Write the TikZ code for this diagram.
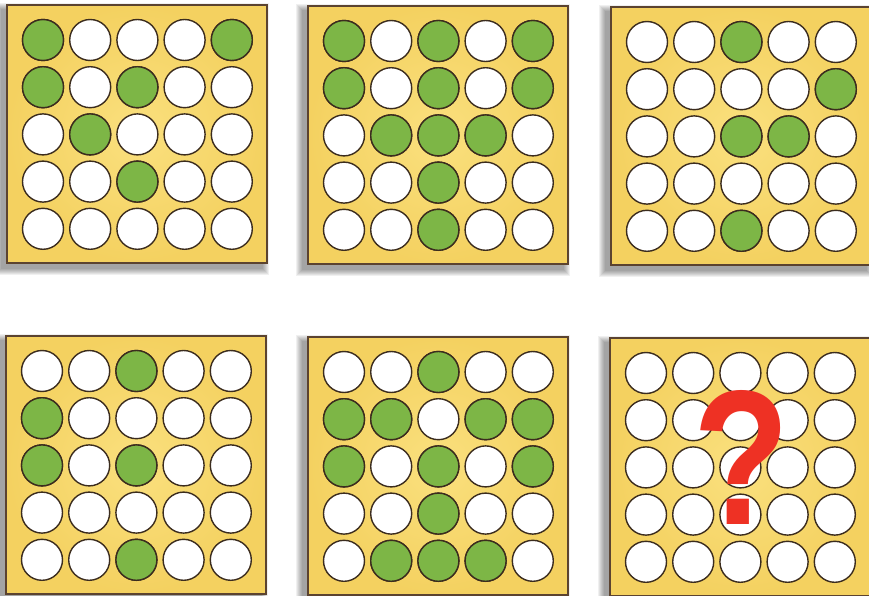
\documentclass[tikz,border=0pt]{standalone}
\usepackage{fontspec}
\newfontfamily\qfont{Liberation Sans}
\definecolor{panelin}{HTML}{FAE07E}
\definecolor{panelout}{HTML}{F4D160}
\definecolor{paneledge}{HTML}{5B4330}
\definecolor{dotgreen}{HTML}{7DB646}
\definecolor{dotedge}{HTML}{3B2C1E}
\definecolor{qred}{HTML}{EE3124}
\tikzset{
  panelbox/.style={draw=paneledge, line width=1.3pt, inner color=panelin, outer color=panelout},
  whitedot/.style={draw=dotedge, line width=1.4pt, fill=white},
  greendot/.style={draw=dotedge, line width=1.4pt, fill=dotgreen},
  shadowlayer/.style={fill=black, opacity=0.06}
}
\newcommand\drawpanel[3]{%
  \foreach \i in {1,...,7}{
    \fill[shadowlayer] ({#1-5-\i},{#2+5-\i}) rectangle ({#1+260-5+\i},{#2+258+5+\i});
  }
  \path[panelbox] (#1,#2) rectangle ({#1+260},{#2+258});
  \foreach \r in {1,...,5}{
    \foreach \c in {1,...,5}{
      \path[whitedot] ({#1+36+47.2*(\c-1)},{#2+35+47.2*(\r-1)}) circle (20.5);
    }
  }
  \foreach \r/\c in {#3}{
    \path[greendot] ({#1+36+47.2*(\c-1)},{#2+35+47.2*(\r-1)}) circle (20.5);
  }
}
\begin{document}
\begin{tikzpicture}[x=1pt,y=-1pt]
\useasboundingbox (0,0) rectangle (869,596);
\clip (0,0) rectangle (869,596);
\fill[white] (0,0) rectangle (869,596);
\drawpanel{7}{5}{1/1,1/5,2/1,2/3,3/2,4/3}
\drawpanel{308}{6}{1/1,1/3,1/5,2/1,2/3,2/5,3/2,3/3,3/4,4/3,5/3}
\drawpanel{611}{7}{1/3,2/5,3/3,3/4,5/3}
\drawpanel{6}{336}{1/3,2/1,3/1,3/3,5/3}
\drawpanel{308}{337}{1/3,2/1,2/2,2/4,2/5,3/1,3/3,3/5,4/3,5/2,5/3,5/4}
\drawpanel{610}{338}{}
\node[font=\qfont\bfseries\fontsize{192}{192}\selectfont, text=qred, inner sep=0pt, xscale=0.82] (qmark) at (742,457) {?};
\end{tikzpicture}
\end{document}
